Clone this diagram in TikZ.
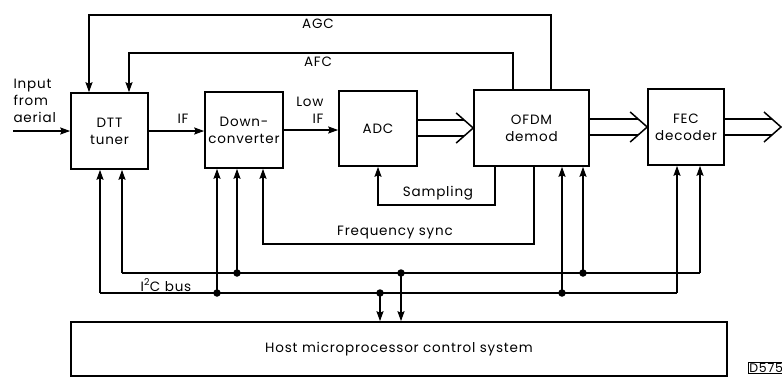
\documentclass[tikz,border=0pt]{standalone}
\usepackage{fontspec}
\setmainfont[LetterSpace=6]{Poppins}
\usetikzlibrary{arrows.meta,calc}
\tikzset{
  blk/.style={draw,line width=1.6pt,minimum width=#1,align=center,inner sep=0pt},
  arr/.style={line width=1.5pt,-{Stealth[length=10pt,width=7pt,inset=1.5pt]}},
  ln/.style={line width=1.5pt},
  lbl/.style={font=\fontsize{13.5}{17}\selectfont},
  dot/.style={circle,fill,inner sep=0pt,minimum size=7.5pt},
}
\newcommand\dblarr[2]{%
  \draw[ln] ($(#1)+(0,-8)$) -- ($(#2)+(-9,-8)$);
  \draw[ln] ($(#1)+(0,8)$) -- ($(#2)+(-9,8)$);
  \draw[ln,line join=miter] ($(#2)+(-17,-15)$) -- (#2) -- ($(#2)+(-17,15)$);}
\begin{document}
\begin{tikzpicture}[x=1pt,y=-1pt]
\useasboundingbox (0,0) rectangle (782,378);
% blocks
\node[blk=77pt,minimum height=76pt,lbl] (dtt) at (109.5,131) {DTT\\tuner};
\node[blk=78pt,minimum height=76pt,lbl] (down) at (244,130) {Down-\\converter};
\node[blk=78pt,minimum height=75pt,lbl] (adc) at (378,128.5) {ADC};
\node[blk=115pt,minimum height=76pt,lbl] (ofdm) at (531.5,128) {OFDM\\demod};
\node[blk=76pt,minimum height=76pt,lbl] (fec) at (686,127) {FEC\\decoder};
\node[blk=656pt,minimum height=54pt,lbl] (host) at (399,349) {Host microprocessor control system};
% input
\coordinate (in) at (13,131);
\node[lbl,align=left,anchor=west] (inlbl) at (10,101) {Input\\from\\aerial};
\draw[arr] (in) -- (dtt.west);
% IF
\draw[arr] (dtt.east) -- (down.west |- dtt.east);
\node[lbl] (iflbl) at (183,119) {IF};
\draw[arr] (down.east) -- (adc.west |- down.east);
\node[lbl,align=right,anchor=east] (lowif) at (327,110) {Low\\IF};
% AGC / AFC
\coordinate (agcR) at (551,15); \coordinate (agcL) at (89,15);
\draw[arr] (agcR |- ofdm.north) -- (agcR) -- (agcL) -- (agcL |- dtt.north);
\node[lbl] (agclbl) at (318,24) {AGC};
\coordinate (afcR) at (513,53); \coordinate (afcL) at (129,53);
\draw[arr] (afcR |- ofdm.north) -- (afcR) -- (afcL) -- (afcL |- dtt.north);
\node[lbl] (afclbl) at (318,62) {AFC};
% double arrows
\coordinate (a1) at (adc.east |- ofdm.west);
\dblarr{a1}{ofdm.west}
\coordinate (o1s) at (ofdm.east |- fec.west);
\coordinate (o1e) at (fec.west);
\dblarr{o1s}{o1e}
\coordinate (out) at (781,127);
\dblarr{fec.east}{out}
% sampling
\coordinate (s1) at (495,205); \coordinate (s2) at (378,205);
\draw[arr] (s1 |- ofdm.south) -- (s1) -- (s2) -- (s2 |- adc.south);
\node[lbl] (samplbl) at (438,193) {Sampling};
% frequency sync
\coordinate (f1) at (534,244); \coordinate (f2) at (263,244);
\draw[arr] (f1 |- ofdm.south) -- (f1) -- (f2) -- (f2 |- down.south);
\node[lbl] (fslbl) at (395,233) {Frequency sync};
% buses
\coordinate (d1) at (100,293); \coordinate (c1) at (217,293);
\coordinate (h1) at (380,293); \coordinate (o1) at (562,293); \coordinate (e1) at (677,293);
\coordinate (d2) at (122,273); \coordinate (c2) at (237,273);
\coordinate (h2) at (401,273); \coordinate (o2) at (583,273); \coordinate (e2) at (700,273);
\draw[ln] (d1) -- (e1);
\draw[ln] (d2) -- (e2);
\node[lbl] (i2c) at (166,285) {I\textsuperscript{2}C bus};
\foreach \p/\b in {d1/dtt,c1/down,o1/ofdm,e1/fec,d2/dtt,c2/down,o2/ofdm,e2/fec}
  \draw[arr] (\p) -- (\p |- \b.south);
\draw[arr] (h1) -- (h1 |- host.north);
\draw[arr] (h2) -- (h2 |- host.north);
\foreach \p in {c1,h1,o1,c2,h2,o2}
  \node[dot] at (\p) {};
% tag
\node[draw,line width=1.2pt,anchor=west,inner sep=0.8pt,font=\fontsize{12.5}{13}\selectfont] (tag) at (748,368) {D575};
\end{tikzpicture}
\end{document}
